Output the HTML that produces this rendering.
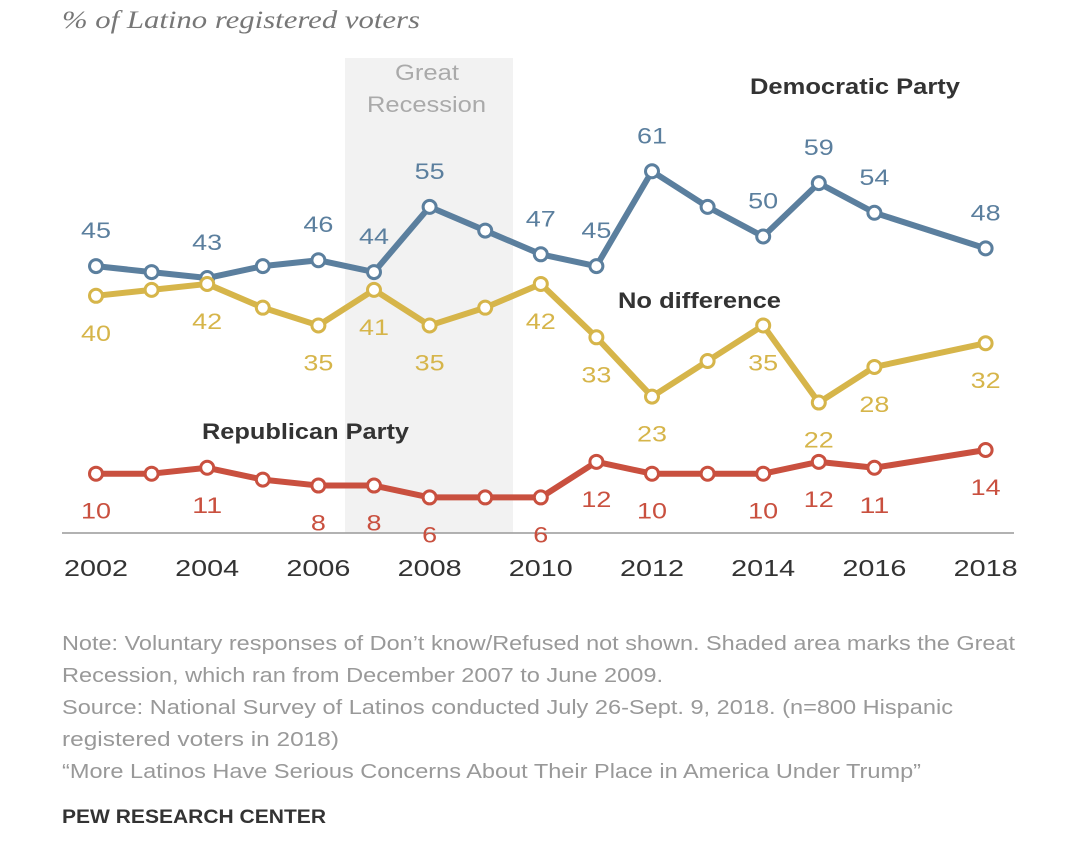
<!DOCTYPE html>
<html><head><meta charset="utf-8"><style>
body{margin:0;background:#fff;width:1080px;height:862px;overflow:hidden;font-family:"Liberation Sans",sans-serif}
svg{position:absolute;left:0;top:0}
</style></head><body>
<svg width="1080" height="862">
<text x="62" y="28" font-family="Liberation Serif" font-style="italic" font-size="25" fill="#777" textLength="358" lengthAdjust="spacingAndGlyphs">% of Latino registered voters</text>
<rect x="345" y="58" width="168" height="475" fill="#f2f2f2"/>
<text x="395" y="80" font-size="22" fill="#aaa" textLength="64" lengthAdjust="spacingAndGlyphs">Great</text>
<text x="367" y="112" font-size="22" fill="#aaa" textLength="119" lengthAdjust="spacingAndGlyphs">Recession</text>
<line x1="62" y1="533" x2="1014" y2="533" stroke="#999" stroke-width="1.5"/>
<g id="ticks"></g><g id="series"></g>
<text x="750" y="94" font-size="22" font-weight="bold" fill="#333" textLength="210" lengthAdjust="spacingAndGlyphs">Democratic Party</text>
<text x="618" y="308" font-size="22" font-weight="bold" fill="#333" textLength="163" lengthAdjust="spacingAndGlyphs">No difference</text>
<text x="202" y="439" font-size="22" font-weight="bold" fill="#333" textLength="207" lengthAdjust="spacingAndGlyphs">Republican Party</text>
<g font-size="20" fill="#999" lengthAdjust="spacingAndGlyphs">
<text x="62" y="650" textLength="953" lengthAdjust="spacingAndGlyphs">Note: Voluntary responses of Don’t know/Refused not shown. Shaded area marks the Great</text>
<text x="62" y="682" textLength="601" lengthAdjust="spacingAndGlyphs">Recession, which ran from December 2007 to June 2009.</text>
<text x="62" y="714" textLength="891" lengthAdjust="spacingAndGlyphs">Source: National Survey of Latinos conducted July 26-Sept. 9, 2018. (n=800 Hispanic</text>
<text x="62" y="746" textLength="277" lengthAdjust="spacingAndGlyphs">registered voters in 2018)</text>
<text x="62" y="778" textLength="859" lengthAdjust="spacingAndGlyphs">“More Latinos Have Serious Concerns About Their Place in America Under Trump”</text>
</g>
<text x="62" y="823" font-size="19" font-weight="bold" fill="#333" textLength="264" lengthAdjust="spacingAndGlyphs">PEW RESEARCH CENTER</text>
</svg>
<script>
const years=[2002,2003,2004,2005,2006,2007,2008,2009,2010,2011,2012,2013,2014,2015,2016,2018];
const dem=[45,44,43,45,46,44,55,51,47,45,61,55,50,59,54,48];
const nodiff=[40,41,42,38,35,41,35,38,42,33,23,29,35,22,28,32];
const rep=[10,10,11,9,8,8,6,6,6,12,10,10,10,12,11,14];
const demLabeled=[1,0,1,0,1,1,1,0,1,1,1,0,1,1,1,1];
const ndLabeled=[1,0,1,0,1,1,1,0,1,1,1,0,1,1,1,1];
const repLabeled=[1,0,1,0,1,1,1,0,1,1,1,0,1,1,1,1];
const tickYears=[2002,2004,2006,2008,2010,2012,2014,2016,2018];
const x=y=>96+(y-2002)*55.6;
const yv=v=>533-v*5.93;
const NS='http://www.w3.org/2000/svg';
function mk(t,a,p){const e=document.createElementNS(NS,t);for(const k in a)e.setAttribute(k,a[k]);p.appendChild(e);return e;}
const tg=document.getElementById('ticks');
tickYears.forEach(t=>{const e=mk('text',{x:x(t)-32,y:576,'font-size':23,fill:'#333',textLength:64,lengthAdjust:'spacingAndGlyphs'},tg);e.textContent=t;

});
const sg=document.getElementById('series');
function draw(vals,lab,color,name,below){
  const pl=mk('polyline',{points:vals.map((v,i)=>x(years[i])+','+yv(v)).join(' '),fill:'none',stroke:color,'stroke-width':6,'stroke-linejoin':'round'},sg);
  
  
  vals.forEach((v,i)=>{
    const c=mk('circle',{cx:x(years[i]),cy:yv(v),r:6.5,fill:'#fff',stroke:color,'stroke-width':3},sg);
    
    
    if(lab[i]){
      const w=String(v).length*15;
      const t=mk('text',{x:x(years[i])-w/2,y:below?yv(v)+45:yv(v)-28,'font-size':22,fill:color,textLength:w,lengthAdjust:'spacingAndGlyphs'},sg);
      t.textContent=v;
      
      
    }
  });
}
draw(dem,demLabeled,'#5b7f9e','democratic',false);
draw(nodiff,ndLabeled,'#d6b54a','no-difference',true);
draw(rep,repLabeled,'#c9503f','republican',true);
</script>
</body></html>
